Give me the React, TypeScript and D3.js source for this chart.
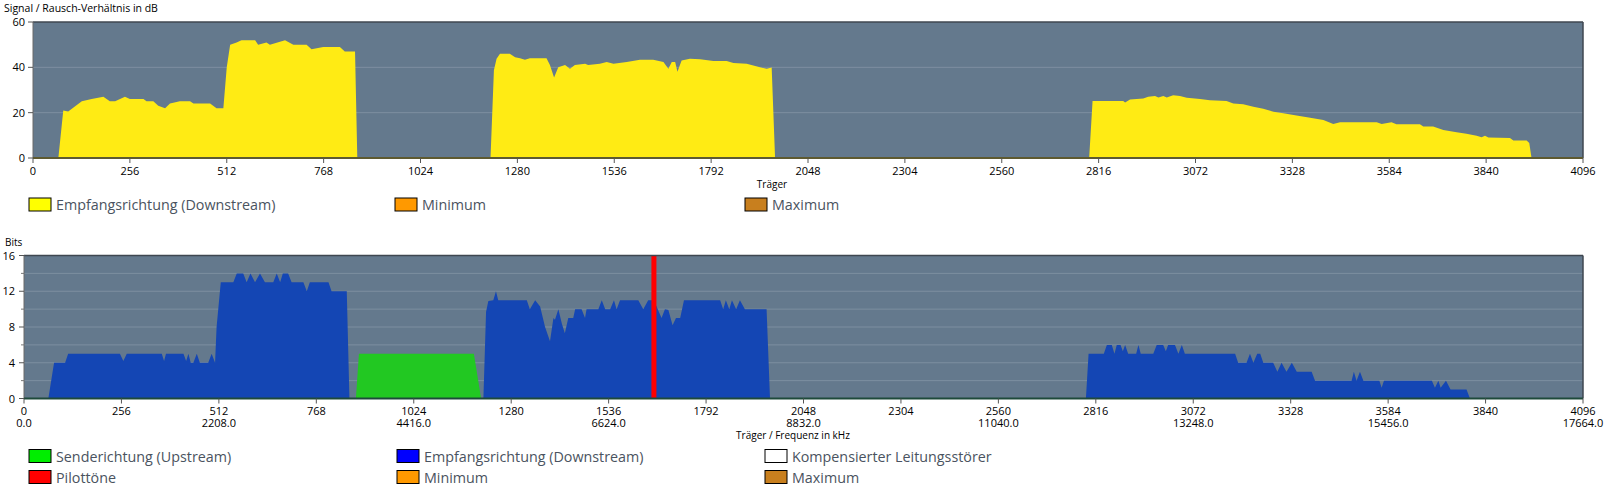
import React from "react";
import * as d3 from "d3";

// ---- Data (carrier index, value) ----
const snrCarriers1 = [67, 80, 93, 129, 155, 186, 203, 217, 243, 256, 292, 300, 318, 331, 349, 362, 388, 415, 424, 468, 485, 503, 512, 521, 538, 551, 587, 595, 617, 626, 666, 688, 723, 736, 767, 785, 811, 824, 851, 857];
const snrValues1 = [0, 21, 20.5, 25, 26, 27, 25, 25, 27, 26, 26, 25, 25, 23, 22, 24, 25, 25, 24, 24, 22, 22, 40, 50, 51, 52, 52, 50, 51, 50, 52, 50, 50, 48, 49, 49, 49, 47, 47, 0];
const snrCarriers2 = [1209, 1218, 1225, 1234, 1260, 1274, 1287, 1300, 1313, 1357, 1366, 1377, 1388, 1406, 1419, 1432, 1459, 1467, 1498, 1516, 1534, 1569, 1604, 1639, 1666, 1679, 1688, 1697, 1703, 1714, 1736, 1763, 1798, 1833, 1851, 1886, 1921, 1939, 1952, 1961];
const snrValues2 = [0, 38.7, 43.8, 46, 46, 44.5, 44, 43.4, 44, 44, 41, 35.5, 40, 41, 39.4, 41, 41.6, 41, 41.6, 42.3, 41.6, 42.3, 43.4, 43.4, 42.3, 39.4, 42.3, 42.3, 38, 43, 43.8, 43.6, 42.8, 42.8, 41.9, 41.6, 40, 39.4, 39.9, 0];
const snrCarriers3 = [2791, 2800, 2881, 2886, 2899, 2934, 2947, 2965, 2974, 2987, 2996, 3013, 3031, 3049, 3084, 3110, 3154, 3172, 3198, 3225, 3251, 3278, 3304, 3339, 3375, 3410, 3436, 3454, 3551, 3564, 3590, 3603, 3665, 3674, 3700, 3727, 3762, 3788, 3815, 3828, 3837, 3846, 3903, 3912, 3947, 3954, 3960];
const snrValues3 = [0, 25.1, 25.1, 24.5, 25.8, 26.3, 27, 27.4, 26.7, 27.4, 26.7, 27.7, 27.3, 26.6, 26, 25.5, 25.1, 24, 23.7, 22.6, 21.7, 20.4, 19.7, 18.7, 17.8, 16.8, 15, 15.8, 15.8, 15, 15.8, 14.9, 14.9, 13.9, 13.9, 12.4, 11.4, 10.7, 9.8, 9.2, 9.8, 9, 8.8, 7.7, 7.7, 6.6, 0];

const bitsDownCarriers1 = [64, 79, 108, 116, 252, 261, 270, 362, 368, 373, 419, 426, 432, 438, 445, 454, 462, 484, 493, 502, 506, 517, 550, 559, 576, 585, 595, 607, 620, 633, 655, 664, 673, 680, 694, 703, 734, 743, 751, 800, 808, 848, 855];
const bitsDownValues1 = [0, 4, 4, 5, 5, 4.2, 5, 5, 4.2, 5, 5, 4.2, 5, 4, 4, 5, 4, 4, 5, 4, 8, 13, 13, 14, 14, 13, 14, 13, 14, 13, 13, 14, 13, 14, 14, 13, 13, 12, 13, 13, 12, 12, 0];
const bitsDownCarriers2 = [1207, 1214, 1220, 1233, 1240, 1246, 1321, 1329, 1343, 1356, 1369, 1382, 1391, 1395, 1404, 1413, 1421, 1430, 1443, 1448, 1465, 1474, 1478, 1509, 1518, 1527, 1540, 1550, 1557, 1566, 1614, 1627, 1640, 1654, 1662, 1675, 1684, 1693, 1704, 1713, 1724, 1734, 1829, 1837, 1844, 1853, 1860, 1871, 1881, 1894, 1951, 1960];
const bitsDownValues2 = [0, 9.7, 10.9, 11, 12, 11, 11, 10, 11, 10.3, 8, 6.4, 9, 8.8, 10, 8.4, 7.3, 9, 9, 10, 10, 9, 10, 10, 11, 10, 10, 11, 10, 11, 11, 10, 11, 11, 10.3, 9, 10, 9.9, 8.2, 9, 9, 11, 11, 10, 11, 10, 11, 10, 11, 10, 10, 0];
const bitsDownCarriers3 = [2790, 2797, 2837, 2845, 2858, 2865, 2871, 2881, 2887, 2893, 2901, 2922, 2928, 2934, 2967, 2976, 2993, 3000, 3006, 3024, 3033, 3042, 3050, 3090, 3182, 3190, 3212, 3221, 3230, 3240, 3248, 3256, 3282, 3293, 3304, 3317, 3331, 3344, 3383, 3392, 3488, 3494, 3501, 3510, 3519, 3561, 3567, 3573, 3699, 3707, 3716, 3722, 3736, 3748, 3790, 3799];
const bitsDownValues3 = [0, 5, 5, 6, 6, 5, 6, 6, 5.3, 6, 5, 5, 6, 5, 5, 6, 6, 5.3, 6, 6, 5, 6, 5, 5, 5, 4, 4, 5, 4, 5, 5, 4, 4, 3, 4, 3, 4, 3, 3, 2, 2, 3, 2, 3, 2, 2, 1.2, 2, 2, 1.2, 2, 1.2, 2, 1, 1, 0];
const bitsUpCarriers = [872, 880, 1182, 1201];
const bitsUpValues = [0, 5, 5, 0];
const pilotCarrier = 1655;

const carrierTicks = d3.range(0, 4097, 256);
const snrTicks = [0, 20, 40, 60];
const bitsTicks = [0, 4, 8, 12, 16];
const bitsGrid = d3.range(2, 16, 2);
const carrierSpacingKHz = 4.3125;

const topLegend = [
  { label: "Empfangsrichtung (Downstream)", color: "#ffff00" },
  { label: "Minimum", color: "#ff9900" },
  { label: "Maximum", color: "#c87f1e" },
];
const bottomLegend = [
  { label: "Senderichtung (Upstream)", color: "#00ee00" },
  { label: "Empfangsrichtung (Downstream)", color: "#0000ff" },
  { label: "Kompensierter Leitungsstörer", color: "#ffffff" },
  { label: "Pilottöne", color: "#ff0000" },
  { label: "Minimum", color: "#ff9900" },
  { label: "Maximum", color: "#c87f1e" },
];

const FONT = "'Open Sans', 'Noto Sans', sans-serif";
const PLOT_BG = "#64798d";
const GRID = "#7d8fa0";

function zip(xs: number[], ys: number[]): [number, number][] {
  return xs.map((x, i) => [x, ys[i]]);
}

export default function App() {
  // Top chart
  const tx = d3.scaleLinear().domain([0, 4096]).range([33, 1583]);
  const ty = d3.scaleLinear().domain([0, 60]).range([158, 22]);
  const topArea = d3
    .area<[number, number]>()
    .x((d) => tx(d[0]))
    .y0(ty(0))
    .y1((d) => ty(d[1]));

  // Bottom chart
  const bx = d3.scaleLinear().domain([0, 4096]).range([24, 1583]);
  const by = d3.scaleLinear().domain([0, 16]).range([398.5, 255.5]);
  const botArea = d3
    .area<[number, number]>()
    .x((d) => bx(d[0]))
    .y0(by(0))
    .y1((d) => by(d[1]));

  const legendText = { fontFamily: FONT, fontSize: 14.3, fill: "#4a5360" };

  return (
    <svg width={1608} height={490} style={{ position: "absolute", left: 0, top: 0 }}>
      <rect width={1608} height={490} fill="#ffffff" />
      {/* ---------- Top chart ---------- */}
      <text x={4} y={12} fontFamily={FONT} fontSize={10.5} fill="#000">
        Signal / Rausch-Verhältnis in dB
      </text>
      <rect x={tx(0)} y={ty(60)} width={tx(4096) - tx(0)} height={ty(0) - ty(60)} fill={PLOT_BG} />
      {snrTicks.filter((t) => t > 0 && t < 60).map((t) => (
        <line key={t} x1={tx(0)} x2={tx(4096)} y1={ty(t)} y2={ty(t)} stroke={GRID} strokeWidth={1} />
      ))}
      {[zip(snrCarriers1, snrValues1), zip(snrCarriers2, snrValues2), zip(snrCarriers3, snrValues3)].map((seg, i) => (
        <path key={i} d={topArea(seg) || ""} fill="#ffeb14" />
      ))}
      <line x1={tx(0)} x2={tx(4096)} y1={ty(60)} y2={ty(60)} stroke="#3f4750" strokeWidth={1.5} />
      <line x1={tx(4096)} x2={tx(4096)} y1={ty(60)} y2={ty(0)} stroke="#3f4750" strokeWidth={1.5} />
      <line x1={tx(0)} x2={tx(0)} y1={ty(60)} y2={ty(0)} stroke="#6a6a6a" strokeWidth={1} />
      <line x1={tx(0)} x2={tx(4096)} y1={ty(0)} y2={ty(0)} stroke="#5e5a30" strokeWidth={2} />
      {snrTicks.map((t) => (
        <g key={t}>
          <line x1={tx(0) - 5} x2={tx(0)} y1={ty(t)} y2={ty(t)} stroke="#555" />
          <text x={tx(0) - 8} y={ty(t) + 4} textAnchor="end" fontFamily={FONT} fontSize={11} fill="#000">
            {t}
          </text>
        </g>
      ))}
      {carrierTicks.map((t) => (
        <g key={t}>
          <line x1={tx(t)} x2={tx(t)} y1={ty(0)} y2={ty(0) + 5} stroke="#555" />
          <text x={tx(t)} y={ty(0) + 17} textAnchor="middle" fontFamily={FONT} fontSize={11} fill="#000">
            {t}
          </text>
        </g>
      ))}
      <text x={772} y={188} textAnchor="middle" fontFamily={FONT} fontSize={10} fill="#000">
        Träger
      </text>
      {topLegend.map((l, i) => {
        const x0 = [29, 395, 745][i];
        return (
          <g key={l.label}>
            <rect x={x0} y={198} width={22} height={13} fill={l.color} stroke="#000" strokeWidth={1} />
            <text x={x0 + 27} y={210} {...legendText}>
              {l.label}
            </text>
          </g>
        );
      })}

      {/* ---------- Bottom chart ---------- */}
      <text x={5} y={246} fontFamily={FONT} fontSize={10} fill="#000">
        Bits
      </text>
      <rect x={bx(0)} y={by(16)} width={bx(4096) - bx(0)} height={by(0) - by(16)} fill={PLOT_BG} />
      {bitsGrid.map((t) => (
        <line key={t} x1={bx(0)} x2={bx(4096)} y1={by(t)} y2={by(t)} stroke={GRID} strokeWidth={1} />
      ))}
      <path d={botArea(zip(bitsUpCarriers, bitsUpValues)) || ""} fill="#22c822" />
      {[zip(bitsDownCarriers1, bitsDownValues1), zip(bitsDownCarriers2, bitsDownValues2), zip(bitsDownCarriers3, bitsDownValues3)].map((seg, i) => (
        <path key={i} d={botArea(seg) || ""} fill="#1446b4" />
      ))}
      <rect x={bx(pilotCarrier) - 2.5} y={by(16)} width={5} height={by(0) - by(16)} fill="#ff0000" />
      <line x1={bx(0)} x2={bx(4096)} y1={by(16)} y2={by(16)} stroke="#3f4750" strokeWidth={1.5} />
      <line x1={bx(4096)} x2={bx(4096)} y1={by(16)} y2={by(0)} stroke="#3f4750" strokeWidth={1.5} />
      <line x1={bx(0)} x2={bx(0)} y1={by(16)} y2={by(0)} stroke="#6a6a6a" strokeWidth={1} />
      <line x1={bx(0)} x2={bx(4096)} y1={by(0)} y2={by(0)} stroke="#1e4a3a" strokeWidth={2} />
      {bitsTicks.map((t) => (
        <g key={t}>
          <line x1={bx(0) - 5} x2={bx(0)} y1={by(t)} y2={by(t)} stroke="#555" />
          <text x={bx(0) - 9} y={by(t) + 4} textAnchor="end" fontFamily={FONT} fontSize={11} fill="#000">
            {t}
          </text>
        </g>
      ))}
      {d3.range(2, 16, 4).map((t) => (
        <line key={t} x1={bx(0) - 3} x2={bx(0)} y1={by(t)} y2={by(t)} stroke="#777" />
      ))}
      {carrierTicks.map((t) => (
        <g key={t}>
          <line x1={bx(t)} x2={bx(t)} y1={by(0)} y2={by(0) + 5} stroke="#555" />
          <text x={bx(t)} y={by(0) + 16} textAnchor="middle" fontFamily={FONT} fontSize={11} fill="#000">
            {t}
          </text>
          {t % 512 === 0 && (
            <text x={bx(t)} y={by(0) + 28} textAnchor="middle" fontFamily={FONT} fontSize={11} fill="#000">
              {(t * carrierSpacingKHz).toFixed(1)}
            </text>
          )}
        </g>
      ))}
      <text x={793} y={439} textAnchor="middle" fontFamily={FONT} fontSize={10} fill="#000">
        Träger / Frequenz in kHz
      </text>
      {bottomLegend.map((l, i) => {
        const x0 = [29, 397, 765][i % 3];
        const yc = i < 3 ? 456 : 477;
        return (
          <g key={l.label}>
            <rect x={x0} y={yc - 6.5} width={22} height={13} fill={l.color} stroke="#000" strokeWidth={1} />
            <text x={x0 + 27} y={yc + 5.5} {...legendText}>
              {l.label}
            </text>
          </g>
        );
      })}
    </svg>
  );
}
